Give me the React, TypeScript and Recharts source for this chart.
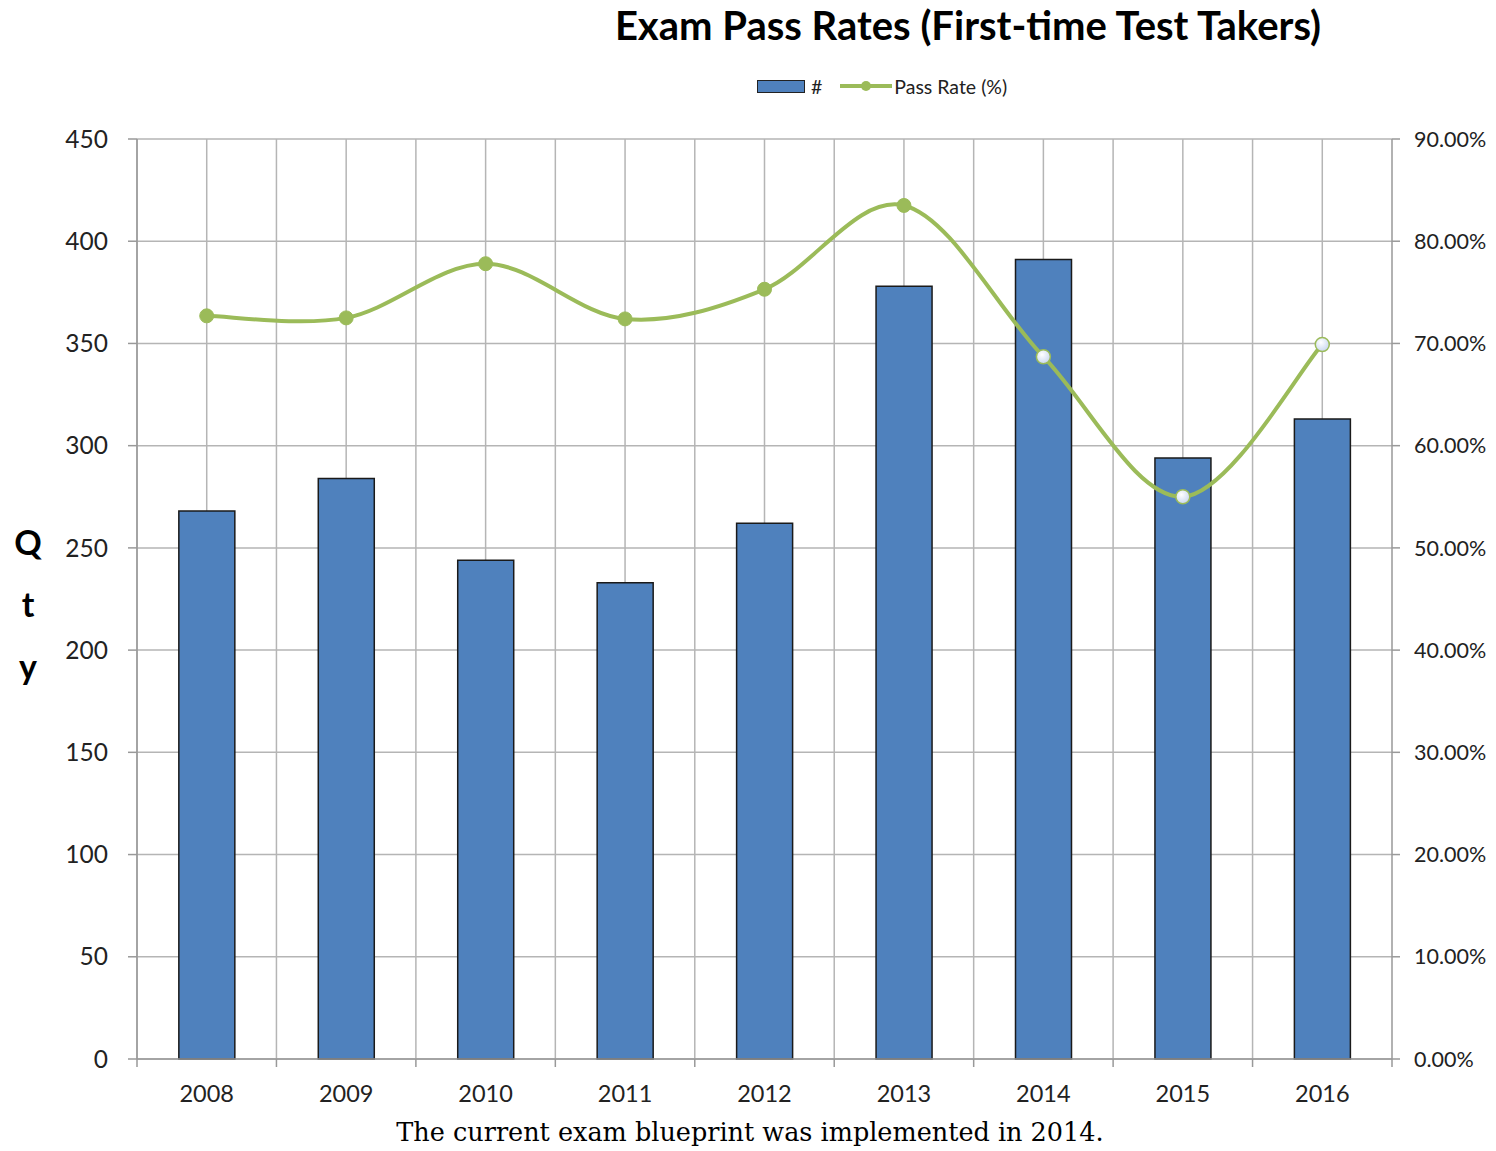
import React from "react";
import {
  ComposedChart,
  Bar,
  Line,
  XAxis,
  YAxis,
  CartesianGrid,
} from "recharts";

// Chart data
const YEARS = ["2008", "2009", "2010", "2011", "2012", "2013", "2014", "2015", "2016"];
const COUNTS = [268, 284, 244, 233, 262, 378, 391, 294, 313];
const PASS_RATES = [72.7, 72.5, 77.8, 72.4, 75.3, 83.5, 68.7, 55.0, 69.9];
const QTY_TICKS = [0, 50, 100, 150, 200, 250, 300, 350, 400, 450];
const RATE_TICKS = [0, 10, 20, 30, 40, 50, 60, 70, 80, 90];
// points from this index on are drawn with the pale marker
const NEW_BLUEPRINT_FROM = 6;

const chartData = YEARS.map((year, i) => ({
  year,
  count: COUNTS[i],
  rate: PASS_RATES[i],
}));

const FONT = "Lato, 'Open Sans', sans-serif";
const GRID = "#b5b5b5";
const BAR_BLUE = "#4f81bd";
const LINE_GREEN = "#9bbb59";

// Excel-like smoothed line (Catmull-Rom through the points)
const smoothCurve = (context: any) => {
  let pts: number[][] = [];
  return {
    areaStart() {},
    areaEnd() {},
    lineStart() {
      pts = [];
    },
    point(x: number, y: number) {
      pts.push([+x, +y]);
    },
    lineEnd() {
      if (!pts.length) return;
      context.moveTo(pts[0][0], pts[0][1]);
      for (let i = 0; i < pts.length - 1; i++) {
        const p0 = pts[i - 1] || pts[i];
        const p1 = pts[i];
        const p2 = pts[i + 1];
        const p3 = pts[i + 2] || p2;
        context.bezierCurveTo(
          p1[0] + (p2[0] - p0[0]) / 6,
          p1[1] + (p2[1] - p0[1]) / 6,
          p2[0] - (p3[0] - p1[0]) / 6,
          p2[1] - (p3[1] - p1[1]) / 6,
          p2[0],
          p2[1]
        );
      }
    },
  };
};

const RateDot = (props: any) => {
  const { cx, cy, index } = props;
  if (cx == null || cy == null) return null;
  const pale = index >= NEW_BLUEPRINT_FROM;
  return (
    <circle
      key={`dot-${index}`}
      cx={cx}
      cy={cy}
      r={7}
      fill={pale ? "url(#paleDot)" : LINE_GREEN}
      stroke={LINE_GREEN}
      strokeWidth={pale ? 1.5 : 1}
    />
  );
};

// year label at band centre, tick marks at band edges
const YearTick = (props: any) => {
  const { x, y, payload, index } = props;
  const half = payload.offset ?? 0;
  return (
    <g>
      <line x1={x - half} x2={x - half} y1={y} y2={y + 8} stroke="#999" strokeWidth={1.5} />
      {index === YEARS.length - 1 && (
        <line x1={x + half} x2={x + half} y1={y} y2={y + 8} stroke="#999" strokeWidth={1.5} />
      )}
      <text x={x} y={y + 43} textAnchor="middle" fill="#222" fontSize={23.5} fontFamily={FONT}>
        {payload.value}
      </text>
    </g>
  );
};

const QtyLabel = (props: any) => {
  const { viewBox } = props;
  const cy = viewBox.y + viewBox.height / 2;
  return (
    <text x={28} textAnchor="middle" fill="#000" fontSize={34} fontWeight="bold" fontFamily={FONT}>
      <tspan x={28} y={cy - 44}>Q</tspan>
      <tspan x={28} y={cy + 18}>t</tspan>
      <tspan x={28} y={cy + 80}>y</tspan>
    </text>
  );
};

export default function App() {
  return (
    <div style={{ position: "absolute", left: 0, top: 0, width: 1496, height: 1151, background: "#fff" }}>
      <div
        style={{
          position: "absolute",
          left: 520,
          width: 896,
          top: 0,
          textAlign: "center",
          fontFamily: FONT,
          fontWeight: "bold",
          fontSize: 40,
          lineHeight: "50px",
          color: "#000",
        }}
      >
        Exam Pass Rates (First-time Test Takers)
      </div>

      {/* legend */}
      <div
        style={{
          position: "absolute",
          left: 757,
          top: 74,
          height: 24,
          display: "flex",
          alignItems: "center",
          fontFamily: FONT,
          fontSize: 19.5,
          color: "#222",
        }}
      >
        <div style={{ width: 46, height: 11, background: BAR_BLUE, border: "1.5px solid #222" }} />
        <span style={{ marginLeft: 6 }}>#</span>
        <svg width={52} height={20} style={{ marginLeft: 18 }}>
          <line x1={0} x2={52} y1={10} y2={10} stroke={LINE_GREEN} strokeWidth={4} />
          <circle cx={26} cy={10} r={5} fill={LINE_GREEN} />
        </svg>
        <span style={{ marginLeft: 2 }}>Pass Rate (%)</span>
      </div>

      <div style={{ position: "absolute", left: 0, top: 0 }}>
        <ComposedChart
          width={1496}
          height={1151}
          data={chartData}
          margin={{ top: 139, right: 0, bottom: 32, left: 0 }}
          barCategoryGap="30%"
        >
          <defs>
            <radialGradient id="paleDot" cx="40%" cy="35%" r="70%">
              <stop offset="0%" stopColor="#ffffff" />
              <stop offset="100%" stopColor="#c6d5ee" />
            </radialGradient>
          </defs>
          <CartesianGrid
            yAxisId="qty"
            stroke={GRID}
            strokeWidth={1.5}
            verticalCoordinatesGenerator={({ offset }: any) =>
              YEARS.flatMap((_, i) => [
                offset.left + (i * offset.width) / YEARS.length,
                offset.left + ((i + 0.5) * offset.width) / YEARS.length,
              ])
            }
          />
          <XAxis
            dataKey="year"
            height={60}
            axisLine={{ stroke: "#999", strokeWidth: 1.5 }}
            tickLine={false}
            tickSize={0}
            tickMargin={0}
            tick={<YearTick />}
            interval={0}
          />
          <YAxis
            yAxisId="qty"
            orientation="left"
            width={137}
            domain={[0, 450]}
            ticks={QTY_TICKS}
            interval={0}
            axisLine={{ stroke: "#999", strokeWidth: 1.5 }}
            tickLine={{ stroke: "#999", strokeWidth: 1.5 }}
            tickSize={9}
            tickMargin={20}
            tick={{ fill: "#222", fontSize: 24.5, fontFamily: FONT }}
            label={<QtyLabel />}
          />
          <YAxis
            yAxisId="rate"
            orientation="right"
            width={104}
            domain={[0, 90]}
            ticks={RATE_TICKS}
            interval={0}
            axisLine={{ stroke: "#999", strokeWidth: 1.5 }}
            tickLine={{ stroke: "#999", strokeWidth: 1.5 }}
            tickSize={8}
            tickMargin={14}
            tick={{ fill: "#222", fontSize: 21.5, fontFamily: FONT }}
            tickFormatter={(v: number) => `${v.toFixed(2)}%`}
          />
          <Bar
            yAxisId="qty"
            dataKey="count"
            fill={BAR_BLUE}
            stroke="#1a1a1a"
            strokeWidth={1.5}
            isAnimationActive={false}
          />
          <Line
            yAxisId="rate"
            dataKey="rate"
            type={smoothCurve as any}
            stroke={LINE_GREEN}
            strokeWidth={4}
            dot={<RateDot />}
            activeDot={false}
            isAnimationActive={false}
          />
        </ComposedChart>
      </div>

      <div
        style={{
          position: "absolute",
          left: 0,
          width: 1500,
          top: 1113,
          textAlign: "center",
          fontFamily: "'DejaVu Serif', 'Liberation Serif', serif",
          fontSize: 25.5,
          lineHeight: "38px",
          color: "#000",
        }}
      >
        The current exam blueprint was implemented in 2014.
      </div>
    </div>
  );
}
